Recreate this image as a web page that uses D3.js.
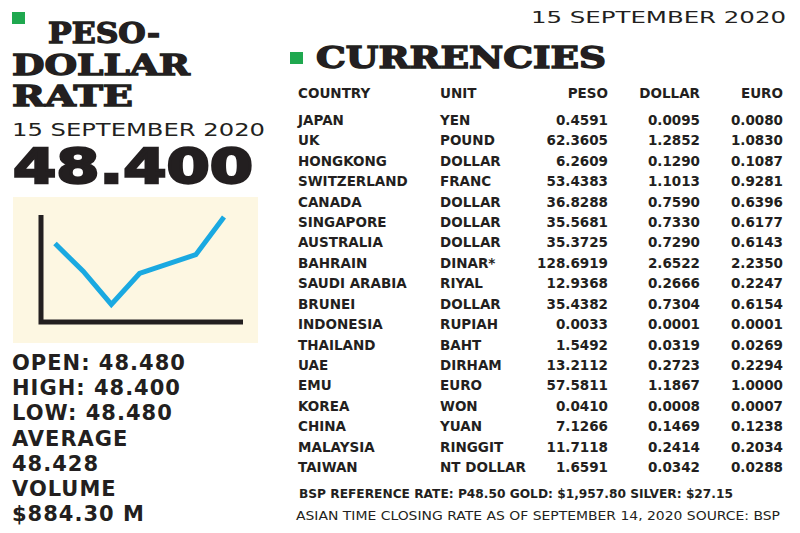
<!DOCTYPE html>
<html><head><meta charset="utf-8">
<script src="https://cdn.jsdelivr.net/npm/d3@7"></script>
<style>body{margin:0;background:#fff}</style>
</head><body>
<svg id="c" width="800" height="533"></svg>
<script>
const countries = ["JAPAN","UK","HONGKONG","SWITZERLAND","CANADA","SINGAPORE","AUSTRALIA","BAHRAIN","SAUDI ARABIA","BRUNEI","INDONESIA","THAILAND","UAE","EMU","KOREA","CHINA","MALAYSIA","TAIWAN"];
const units = ["YEN","POUND","DOLLAR","FRANC","DOLLAR","DOLLAR","DOLLAR","DINAR*","RIYAL","DOLLAR","RUPIAH","BAHT","DIRHAM","EURO","WON","YUAN","RINGGIT","NT DOLLAR"];
const peso = ["0.4591","62.3605","6.2609","53.4383","36.8288","35.5681","35.3725","128.6919","12.9368","35.4382","0.0033","1.5492","13.2112","57.5811","0.0410","7.1266","11.7118","1.6591"];
const dollar = ["0.0095","1.2852","0.1290","1.1013","0.7590","0.7330","0.7290","2.6522","0.2666","0.7304","0.0001","0.0319","0.2723","1.1867","0.0008","0.1469","0.2414","0.0342"];
const euro = ["0.0080","1.0830","0.1087","0.9281","0.6396","0.6177","0.6143","2.2350","0.2247","0.6154","0.0001","0.0269","0.2294","1.0000","0.0007","0.1238","0.2034","0.0288"];
const trend = [48.46, 48.435, 48.405, 48.433, 48.45, 48.484];
const trendX = [0, 1, 2, 3, 5, 6];
const stats = ["OPEN: 48.480","HIGH:  48.400","LOW:  48.480","AVERAGE","48.428","VOLUME","$884.30 M"];

const svg = d3.select("#c");
const slab = "'DejaVu Serif'", sans = "'DejaVu Sans'";
const ink = "#231f20";

// left panel
svg.append("rect").attr("x",12).attr("y",12).attr("width",13).attr("height",12).attr("fill","#1fa84f");
[["PESO-",43],["DOLLAR",75],["RATE",106]].forEach(([t,y],i)=>
  svg.append("text").attr("x",i?12:48).attr("y",y).text(t)
    .attr("font-family",slab).attr("font-weight",900).attr("font-size",28).attr("fill",ink)
    .attr("stroke",ink).attr("stroke-width",1.3)
    .attr("textLength",[112,178,121][i]).attr("lengthAdjust","spacingAndGlyphs"));
svg.append("text").attr("x",12).attr("y",136).text("15 SEPTEMBER 2020")
  .attr("font-family",sans).attr("font-size",17).attr("fill",ink)
  .attr("textLength",253).attr("lengthAdjust","spacingAndGlyphs");
svg.append("text").attr("x",13).attr("y",183).text("48.400")
  .attr("font-family",sans).attr("font-weight",900).attr("font-size",48).attr("fill",ink)
  .attr("stroke",ink).attr("stroke-width",2.5)
  .attr("textLength",240).attr("lengthAdjust","spacingAndGlyphs");

svg.append("rect").attr("x",13).attr("y",197).attr("width",245).attr("height",146).attr("fill","#fdf7e2");
const x = d3.scaleLinear().domain([0,6]).range([55,224]);
const y = d3.scaleLinear().domain([48.40,48.484]).range([310,217]);
svg.append("path").attr("d","M41,215V322H243").attr("fill","none").attr("stroke",ink).attr("stroke-width",5);
svg.append("path").datum(trend).attr("fill","none").attr("stroke","#1aa9e1").attr("stroke-width",5)
  .attr("d",d3.line().x((d,i)=>x(trendX[i])).y(d=>y(d)));

stats.forEach((s,i)=>svg.append("text").attr("x",12).attr("y",370+i*25.2).text(s)
  .attr("font-family",sans).attr("font-weight",700).attr("font-size",21).attr("fill",ink)
  .attr("letter-spacing",1));

// right panel
svg.append("text").attr("x",786).attr("y",23).attr("text-anchor","end").text("15 SEPTEMBER 2020")
  .attr("font-family",sans).attr("font-size",16).attr("fill",ink)
  .attr("textLength",255).attr("lengthAdjust","spacingAndGlyphs");
svg.append("rect").attr("x",290).attr("y",52).attr("width",13).attr("height",12).attr("fill","#1fa84f");
svg.append("text").attr("x",316).attr("y",68).text("CURRENCIES")
  .attr("font-family",slab).attr("font-weight",900).attr("font-size",29).attr("fill",ink)
  .attr("stroke",ink).attr("stroke-width",1.4)
  .attr("textLength",290).attr("lengthAdjust","spacingAndGlyphs");

const cols = [
  {h:"COUNTRY",x:298,a:"start",v:countries},
  {h:"UNIT",x:440,a:"start",v:units},
  {h:"PESO",x:608,a:"end",v:peso},
  {h:"DOLLAR",x:700,a:"end",v:dollar},
  {h:"EURO",x:783,a:"end",v:euro}];
const row = d3.scaleLinear().domain([0,17]).range([125,472]);
const tf = g=>g.attr("font-family",sans).attr("font-size",13.5).attr("fill",ink);
cols.forEach(c=>{
  svg.append("text").attr("x",c.x).attr("y",98).attr("text-anchor",c.a).text(c.h)
    .call(tf).attr("font-weight",700);
  c.v.forEach((v,i)=>svg.append("text").attr("x",c.x).attr("y",row(i)).attr("text-anchor",c.a).text(v)
    .call(tf).attr("font-weight",600));
});
svg.append("text").attr("x",299).attr("y",498).text("BSP REFERENCE RATE: P48.50 GOLD: $1,957.80  SILVER: $27.15")
  .call(tf).attr("font-weight",700).attr("font-size",12).attr("textLength",434).attr("lengthAdjust","spacingAndGlyphs");
svg.append("text").attr("x",296).attr("y",520).text("ASIAN TIME CLOSING RATE AS OF  SEPTEMBER 14, 2020     SOURCE: BSP")
  .call(tf).attr("font-size",12).attr("textLength",484).attr("lengthAdjust","spacingAndGlyphs");
</script>
</body></html>
